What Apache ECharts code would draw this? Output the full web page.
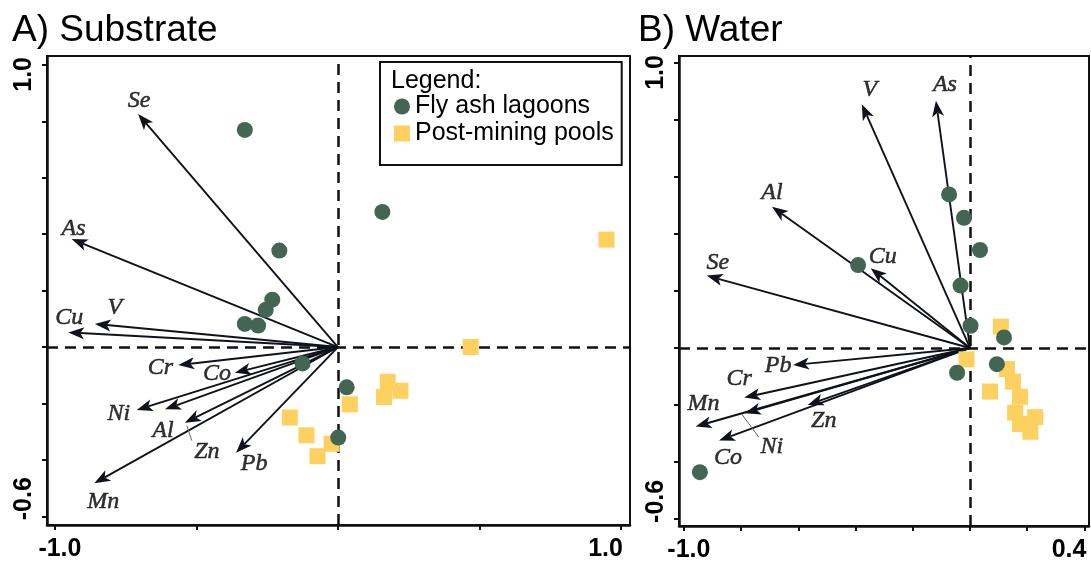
<!DOCTYPE html>
<html>
<head>
<meta charset="utf-8">
<script src="https://cdn.jsdelivr.net/npm/echarts@6/dist/echarts.min.js"></script>
<style>
html,body{margin:0;padding:0;background:#fff;}
#chart{width:1091px;height:562px;}
</style>
</head>
<body>
<div id="chart"></div>
<script>
// ---------- DATA ----------
const panelTitles = ['A) Substrate', 'B) Water'];
const groupNames = ['Fly ash lagoons', 'Post-mining pools'];

// Panel A (Substrate)
const flyAshA = [[-0.329,0.770],[-0.207,0.342],[-0.232,0.168],[-0.255,0.132],[-0.329,0.082],
                 [-0.282,0.076],[-0.125,-0.058],[0.031,-0.143],[0.001,-0.321],[0.157,0.479]];
const poolsA  = [[0.949,0.381],[0.469,0.000],[0.176,-0.123],[0.221,-0.155],[0.163,-0.177],
                 [0.042,-0.203],[-0.170,-0.250],[-0.111,-0.313],[-0.022,-0.343],[-0.072,-0.387]];
const elementsA = ['Se','As','V','Cu','Cr','Co','Ni','Al','Zn','Mn','Pb'];
const arrowXA   = [-0.706,-0.941,-0.859,-0.953,-0.564,-0.364,-0.711,-0.611,-0.541,-0.861,-0.360];
const arrowYA   = [0.826,0.383,0.082,0.052,-0.064,-0.091,-0.223,-0.221,-0.268,-0.483,-0.375];

// Panel B (Water)
const flyAshB = [[-0.073,0.539],[-0.021,0.457],[0.035,0.344],[-0.033,0.219],[0.002,0.078],
                 [0.119,0.037],[-0.045,-0.087],[0.094,-0.057],[-0.391,0.291],[-0.944,-0.436]];
const poolsB  = [[0.108,0.075],[-0.012,-0.040],[0.129,-0.074],[0.150,-0.118],[0.070,-0.153],
                 [0.175,-0.171],[0.158,-0.227],[0.228,-0.243],[0.175,-0.267],[0.211,-0.294]];
const elementsB = ['V','As','Al','Cu','Se','Pb','Cr','Ni','Mn','Zn','Co'];
const arrowXB   = [-0.378,-0.119,-0.692,-0.347,-0.920,-0.618,-0.789,-0.787,-0.959,-0.567,-0.877];
const arrowYB   = [0.856,0.868,0.496,0.280,0.254,-0.060,-0.174,-0.229,-0.276,-0.200,-0.325];

// Axis ticks and tick labels
const xTicksA = [-1.0,-0.5,0,0.5,1.0];
const xTicksB = [-1.0,-0.8,-0.6,-0.4,-0.2,0,0.2,0.4];
const yTicks  = [-0.6,-0.4,-0.2,0,0.2,0.4,0.6,0.8,1.0];
const xTickLabelsA = ['-1.0','1.0'];
const xTickLabelsB = ['-1.0','0.4'];
const yTickLabels  = ['-0.6','1.0'];

// ---------- LAYOUT / STYLE ----------
const GREEN = '#436553', YELLOW = '#fdd05f', INK = '#111', ARROW = '#0f121b';
const grids = [
  {left:47, top:56, width:583, height:469, xmin:-1.028, xmax:1.032, ymin:-0.631, ymax:1.032},
  {left:679, top:56, width:410, height:470, xmin:-1.017, xmax:0.416, ymin:-0.625, ymax:1.025}
];
// label offsets (px) relative to arrow tips
const labelOffsetA = {Se:[1,-13],As:[2,-10],V:[20,-16],Cu:[1,-15],Cr:[-18,3],Co:[-18,1],
                      Ni:[-18,4],Al:[-2,21],Zn:[22,29],Mn:[9,18],Pb:[18,11]};
const labelOffsetB = {V:[8,-14],As:[9,-16],Al:[0,-14],Cu:[12,-12],Se:[11,-13],Pb:[-15,1],
                      Cr:[-5,-19],Ni:[27,33],Mn:[8,-23],Zn:[16,16],Co:[9,17]};
const leaderA = {Zn:[[2,3],[7,18]]};
const leaderB = {Ni:[[-3,1],[14,24]]};

function pairs(xs, ys){ return xs.map((x,i)=>[x, ys[i], i]); }

function arrowRenderer(params, api){
  const o = api.coord([0,0]);
  const t = api.coord([api.value(0), api.value(1)]);
  const dx = t[0]-o[0], dy = t[1]-o[1];
  const len = Math.hypot(dx,dy) || 1;
  const ux = dx/len, uy = dy/len, px = -uy, py = ux;
  const L = 16, W = 6, N = 12;
  const bx = t[0]-ux*L, by = t[1]-uy*L;
  const nx = t[0]-ux*N, ny = t[1]-uy*N;
  return {type:'group', children:[
    {type:'line', shape:{x1:o[0],y1:o[1],x2:nx,y2:ny}, style:{stroke:ARROW, lineWidth:1.9}},
    {type:'polygon', shape:{points:[[t[0],t[1]],[bx+px*W,by+py*W],[nx,ny],[bx-px*W,by-py*W]]},
     style:{fill:ARROW}}
  ]};
}

function leaderRenderer(names, leaders){
  return function(params, api){
    const name = names[api.value(2)];
    const lead = leaders[name];
    if(!lead) return null;
    const t = api.coord([api.value(0), api.value(1)]);
    return {type:'line', shape:{x1:t[0]+lead[0][0], y1:t[1]+lead[0][1], x2:t[0]+lead[1][0], y2:t[1]+lead[1][1]},
            style:{stroke:'#666', lineWidth:1}};
  };
}

function labelData(names, xs, ys, offs){
  return names.map((n,i)=>({name:n, value:[xs[i], ys[i]], label:{offset:offs[n]}}));
}

function panelSeries(idx, flyAsh, pools, names, xs, ys, offs, leaders){
  return [
    {type:'scatter', xAxisIndex:idx, yAxisIndex:idx, data:[[0,0]], symbolSize:0, silent:true, z:1,
     markLine:{silent:true, symbol:'none', z:1, animation:false, label:{show:false},
       lineStyle:{type:[11,7], width:2.5, color:INK}, data:[{xAxis:0},{yAxis:0}]}},
    {type:'custom', xAxisIndex:idx, yAxisIndex:idx, data:pairs(xs,ys), renderItem:arrowRenderer, silent:true, z:2},
    {type:'custom', xAxisIndex:idx, yAxisIndex:idx, data:pairs(xs,ys), renderItem:leaderRenderer(names, leaders), silent:true, z:2},
    {name:groupNames[1], type:'scatter', xAxisIndex:idx, yAxisIndex:idx, data:pools, symbol:'rect', symbolSize:16,
     itemStyle:{color:YELLOW, opacity:1}, z:3, silent:true},
    {name:groupNames[0], type:'scatter', xAxisIndex:idx, yAxisIndex:idx, data:flyAsh, symbol:'circle', symbolSize:16,
     itemStyle:{color:GREEN, opacity:1}, z:4, silent:true},
    {type:'scatter', xAxisIndex:idx, yAxisIndex:idx, data:labelData(names, xs, ys, offs), symbolSize:1,
     itemStyle:{color:'rgba(0,0,0,0)'}, silent:true, z:5,
     label:{show:true, position:'inside', formatter:'{b}', fontFamily:'"Liberation Serif", "Times New Roman", serif',
       fontStyle:'italic', fontSize:24, color:'#000', textBorderColor:'#000', textBorderWidth:0.5}}
  ];
}

function xAxisFor(i, ticks){
  const g = grids[i];
  return {gridIndex:i, type:'value', min:g.xmin, max:g.xmax, splitLine:{show:false},
    axisLine:{show:true, onZero:false, lineStyle:{color:INK, width:2.5}},
    axisTick:{show:true, inside:false, length:5, customValues:ticks, lineStyle:{color:INK, width:2}},
    axisLabel:{show:false}};
}
function yAxisFor(i, ticks){
  const g = grids[i];
  return {gridIndex:i, type:'value', min:g.ymin, max:g.ymax, splitLine:{show:false},
    axisLine:{show:true, onZero:false, lineStyle:{color:INK, width:2.5}},
    axisTick:{show:true, inside:false, length:5, customValues:ticks, lineStyle:{color:INK, width:2}},
    axisLabel:{show:false}};
}

const chart = echarts.init(document.getElementById('chart'), null, {renderer:'canvas'});
const option = {
  animation:false,
  backgroundColor:'#fff',
  grid: grids.map(g=>({left:g.left, top:g.top, width:g.width, height:g.height, show:true,
                        borderColor:INK, borderWidth:2, backgroundColor:'transparent'})),
  xAxis:[xAxisFor(0, xTicksA), xAxisFor(1, xTicksB)],
  yAxis:[yAxisFor(0, yTicks), yAxisFor(1, yTicks)],
  legend:{
    left:380, top:62, orient:'vertical', selectedMode:false,
    padding:[32, 8, 19, 14], itemGap:2, itemWidth:16, itemHeight:16,
    borderColor:INK, borderWidth:2, backgroundColor:'#fff',
    textStyle:{fontFamily:'"Liberation Sans", Arial, sans-serif', fontSize:25, color:'#000'},
    data:[{name:groupNames[0], icon:'circle'}, {name:groupNames[1], icon:'rect'}]
  },
  series: [].concat(
    panelSeries(0, flyAshA, poolsA, elementsA, arrowXA, arrowYA, labelOffsetA, leaderA),
    panelSeries(1, flyAshB, poolsB, elementsB, arrowXB, arrowYB, labelOffsetB, leaderB)
  )
};
chart.setOption(option);

// ---------- titles & tick labels (positions from the axes) ----------
const SANS = '"Liberation Sans", Arial, sans-serif';
const graphics = [];
graphics.push({type:'text', x:12, y:31, z:10, style:{text:panelTitles[0], fontFamily:SANS, fontSize:37, fill:'#000', align:'left', verticalAlign:'middle'}});
graphics.push({type:'text', x:638, y:31, z:10, style:{text:panelTitles[1], fontFamily:SANS, fontSize:37, fill:'#000', align:'left', verticalAlign:'middle'}});
graphics.push({type:'text', x:391, y:81, z:10, style:{text:'Legend:', fontFamily:SANS, fontSize:25, fill:'#000', align:'left', verticalAlign:'middle'}});

const xLabelSets = [xTickLabelsA, xTickLabelsB];
for(let i=0;i<2;i++){
  const g = grids[i];
  const labs = xLabelSets[i];
  const bottom = g.top + g.height;
  const p0 = chart.convertToPixel({gridIndex:i}, [parseFloat(labs[0]), 0]);
  const p1 = chart.convertToPixel({gridIndex:i}, [parseFloat(labs[1]), 0]);
  graphics.push({type:'text', x:p0[0]+5, y:bottom+24, z:10, style:{text:labs[0], fontFamily:SANS, fontWeight:'bold', fontSize:25, fill:'#000', align:'center', verticalAlign:'middle'}});
  graphics.push({type:'text', x:p1[0]+2, y:bottom+24, z:10, style:{text:labs[1], fontFamily:SANS, fontWeight:'bold', fontSize:25, fill:'#000', align:'right', verticalAlign:'middle'}});
  const q0 = chart.convertToPixel({gridIndex:i}, [0, parseFloat(yTickLabels[0])]);
  const q1 = chart.convertToPixel({gridIndex:i}, [0, parseFloat(yTickLabels[1])]);
  graphics.push({type:'text', x:g.left-23, y:q0[1]+4, rotation:Math.PI/2, z:10, style:{text:yTickLabels[0], fontFamily:SANS, fontWeight:'bold', fontSize:25, fill:'#000', align:'left', verticalAlign:'middle'}});
  graphics.push({type:'text', x:g.left-23, y:q1[1]-8, rotation:Math.PI/2, z:10, style:{text:yTickLabels[1], fontFamily:SANS, fontWeight:'bold', fontSize:25, fill:'#000', align:'right', verticalAlign:'middle'}});
}
chart.setOption({graphic:graphics});
</script>
</body>
</html>
